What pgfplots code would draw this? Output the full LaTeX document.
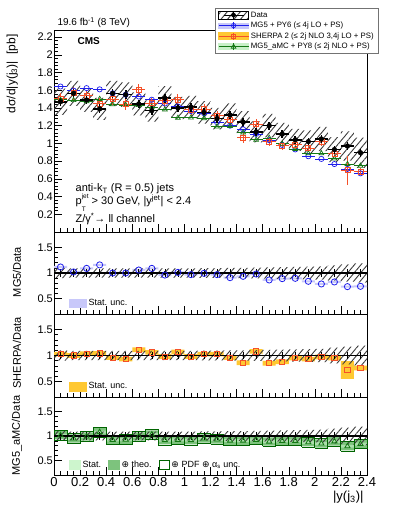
\documentclass[border=0pt]{standalone}
\usepackage{fontspec}
\setmainfont{Liberation Sans}
\newfontfamily\dejavu{DejaVu Sans}
\usepackage{pgfplots}
\usepackage{pgfplotstable}
\pgfplotsset{compat=1.18}
\usepgfplotslibrary{fillbetween}
\usetikzlibrary{patterns.meta}

\definecolor{mgblue}{RGB}{30,30,235}
\definecolor{mgband}{RGB}{200,200,250}
\definecolor{shred}{RGB}{245,80,40}
\definecolor{shband}{RGB}{255,200,50}
\definecolor{amcgreen}{RGB}{20,120,20}
\definecolor{amcstat}{RGB}{205,245,205}
\definecolor{amctheo}{RGB}{125,195,125}
\definecolor{amcdark}{RGB}{0,100,0}
\definecolor{amcband}{RGB}{200,240,200}
\definecolor{hatchcol}{RGB}{60,60,60}

\tikzset{hatch/.style={pattern={Lines[angle=50,distance=5pt,line width=0.9pt]}, pattern color=hatchcol}}

\pgfplotstableread{
x D Dst MG SH SHst AM
0.05 1.47 0.05 1.642 1.508 0.066 1.492
0.15 1.565 0.05 1.596 1.565 0.070 1.487
0.25 1.49 0.05 1.624 1.539 0.067 1.475
0.35 1.39 0.05 1.610 1.446 0.063 1.501
0.45 1.565 0.05 1.565 1.502 0.070 1.440
0.55 1.55 0.05 1.550 1.442 0.070 1.434
0.65 1.445 0.05 1.529 1.604 0.065 1.431
0.75 1.37 0.05 1.493 1.452 0.062 1.411
0.85 1.51 0.05 1.450 1.480 0.068 1.382
0.95 1.40 0.05 1.417 1.492 0.063 1.288
1.05 1.41 0.05 1.365 1.382 0.063 1.290
1.15 1.35 0.05 1.341 1.385 0.061 1.283
1.25 1.28 0.05 1.239 1.313 0.058 1.190
1.35 1.32 0.05 1.200 1.267 0.059 1.195
1.45 1.24 0.05 1.159 1.066 0.056 1.122
1.55 1.13 0.045 1.107 1.220 0.051 1.040
1.65 1.20 0.045 1.037 1.020 0.054 1.062
1.75 1.105 0.045 0.983 0.972 0.050 0.995
1.85 1.04 0.045 0.932 0.988 0.047 0.936
1.95 1.02 0.045 0.855 0.949 0.046 0.887
2.05 1.05 0.045 0.825 1.019 0.047 0.887
2.15 0.93 0.045 0.767 0.884 0.042 0.828
2.25 0.97 0.045 0.712 0.698 0.165 0.766
2.35 0.895 0.045 0.662 0.680 0.040 0.747
}\topdata

\pgfplotstableread{
xl lo hi
0.0 1.323 1.617
0.1 1.424 1.706
0.2 1.356 1.624
0.3 1.265 1.515
0.4 1.424 1.706
0.5 1.411 1.690
0.6 1.315 1.575
0.7 1.247 1.493
0.8 1.374 1.646
0.9 1.274 1.526
1.0 1.283 1.537
1.1 1.222 1.478
1.2 1.158 1.402
1.3 1.188 1.452
1.4 1.116 1.364
1.5 1.011 1.249
1.6 1.068 1.332
1.7 0.978 1.232
1.8 0.915 1.165
1.9 0.892 1.148
2.0 0.913 1.187
2.1 0.790 1.070
2.2 0.805 1.135
2.3 0.725 1.065
2.4 0.725 1.065
}\topband

\pgfplotstableread{
x one rMG rSH rAM
0.05 1 1.117 1.026 1.015
0.15 1 1.02 1.0 0.95
0.25 1 1.09 1.033 0.99
0.35 1 1.158 1.04 1.08
0.45 1 1.0 0.96 0.92
0.55 1 1.0 0.93 0.925
0.65 1 1.058 1.11 0.99
0.75 1 1.09 1.06 1.03
0.85 1 0.96 0.98 0.915
0.95 1 1.012 1.066 0.92
1.05 1 0.968 0.98 0.915
1.15 1 0.993 1.026 0.95
1.25 1 0.968 1.026 0.93
1.35 1 0.909 0.96 0.905
1.45 1 0.935 0.86 0.905
1.55 1 0.98 1.08 0.92
1.65 1 0.864 0.85 0.885
1.75 1 0.89 0.88 0.90
1.85 1 0.896 0.95 0.90
1.95 1 0.838 0.93 0.87
2.05 1 0.786 0.97 0.845
2.15 1 0.825 0.95 0.89
2.25 1 0.734 0.72 0.79
2.35 1 0.74 0.76 0.835
}\ratiotab

\pgfplotstableread{
xl slo shi mlo mhi hlo hhi tlo thi alo ahi
0.0 0.90 1.10 1.097 1.137 0.981 1.071 0.930 1.100 0.985 1.045
0.1 0.91 1.09 1.000 1.040 0.955 1.045 0.865 1.035 0.920 0.980
0.2 0.91 1.09 1.070 1.110 0.988 1.078 0.905 1.075 0.960 1.020
0.3 0.91 1.09 1.138 1.178 0.995 1.085 0.995 1.165 1.050 1.110
0.4 0.91 1.09 0.980 1.020 0.915 1.005 0.835 1.005 0.890 0.950
0.5 0.91 1.09 0.980 1.020 0.885 0.975 0.840 1.010 0.895 0.955
0.6 0.91 1.09 1.038 1.078 1.065 1.155 0.905 1.075 0.960 1.020
0.7 0.91 1.09 1.070 1.110 1.015 1.105 0.945 1.115 1.000 1.060
0.8 0.91 1.09 0.940 0.980 0.935 1.025 0.830 1.000 0.885 0.945
0.9 0.91 1.09 0.992 1.032 1.021 1.111 0.835 1.005 0.890 0.950
1.0 0.91 1.09 0.948 0.988 0.935 1.025 0.830 1.000 0.885 0.945
1.1 0.905 1.095 0.973 1.013 0.981 1.071 0.865 1.035 0.920 0.980
1.2 0.905 1.095 0.948 0.988 0.981 1.071 0.845 1.015 0.900 0.960
1.3 0.90 1.10 0.889 0.929 0.915 1.005 0.820 0.990 0.875 0.935
1.4 0.90 1.10 0.915 0.955 0.815 0.905 0.820 0.990 0.875 0.935
1.5 0.895 1.105 0.960 1.000 1.035 1.125 0.835 1.005 0.890 0.950
1.6 0.89 1.11 0.844 0.884 0.805 0.895 0.800 0.970 0.855 0.915
1.7 0.885 1.115 0.870 0.910 0.835 0.925 0.815 0.985 0.870 0.930
1.8 0.88 1.12 0.876 0.916 0.905 0.995 0.815 0.985 0.870 0.930
1.9 0.875 1.125 0.818 0.858 0.885 0.975 0.785 0.955 0.840 0.900
2.0 0.87 1.13 0.766 0.806 0.925 1.015 0.760 0.930 0.815 0.875
2.1 0.85 1.15 0.805 0.845 0.905 0.995 0.805 0.975 0.860 0.920
2.2 0.83 1.17 0.714 0.754 0.550 0.890 0.705 0.875 0.760 0.820
2.3 0.81 1.19 0.720 0.760 0.715 0.805 0.750 0.920 0.805 0.865
2.4 0.81 1.19 0.720 0.760 0.715 0.805 0.750 0.920 0.805 0.865
}\ratioband

\pgfplotsset{
  base/.style={
    scale only axis, width=313pt, xmin=0, xmax=2.4,
    clip=false,
    axis line style={line width=0.7pt},
    every tick/.style={black, line width=0.5pt},
    tick align=inside, xtick pos=left, ytick pos=left,
    major tick length=8pt, minor tick length=4pt,
    xtick={0,0.2,0.4,0.6,0.8,1,1.2,1.4,1.6,1.8,2,2.2,2.4},
    minor x tick num=3,
    /pgf/number format/assume math mode=true,
    yticklabel style={font=\fontsize{11}{13}\selectfont, inner sep=1pt},
    xticklabel style={font=\fontsize{13}{15}\selectfont, inner sep=2pt},
    unbounded coords=jump,
  },
  ratio/.style={base, ymin=0.2, ymax=1.8, ytick={0.5,1,1.5}, minor y tick num=4},
}

\begin{document}
\begin{tikzpicture}

% ---------------- top panel ----------------
\begin{axis}[base, at={(54pt,284pt)}, anchor=south west, height=202pt,
  ymin=0, ymax=2.28,
  ytick={0.2,0.4,0.6,0.8,1,1.2,1.4,1.6,1.8,2,2.2}, minor y tick num=4,
  xticklabels={},
  legend style={at={(0.514,1.109)}, anchor=north west, draw=black!55, line width=0.6pt,
    fill=white, font=\fontsize{7.8}{9}\selectfont, inner xsep=3pt, inner ysep=1.5pt,
    row sep=-0.6pt, cells={anchor=west}},
  legend cell align=left]
\addplot[name path=tu, const plot mark left, draw=none, forget plot] table[x=xl,y=hi]{\topband};
\addplot[name path=tl, const plot mark left, draw=none, forget plot] table[x=xl,y=lo]{\topband};
\addplot[hatch, draw=none, forget plot] fill between[of=tu and tl];

\addplot[mgblue, only marks, mark=o, mark size=2.6pt, line width=0.7pt, mark options={fill=white}, forget plot,
  error bars/.cd, x dir=both, x fixed=0.05, error mark=none, error bar style={line width=0.8pt}]
  table[x=x,y=MG]{\topdata};
\addplot[amcgreen, only marks, mark=triangle, mark size=2.8pt, line width=0.7pt, mark options={fill=white}, forget plot,
  error bars/.cd, x dir=both, x fixed=0.05, error mark=none, error bar style={line width=0.8pt}]
  table[x=x,y=AM]{\topdata};
\addplot[shred, only marks, mark=square, mark size=2.5pt, line width=0.7pt, mark options={fill=white}, forget plot,
  error bars/.cd, x dir=both, x fixed=0.05, y dir=both, y explicit, error mark=none, error bar style={line width=0.8pt}]
  table[x=x,y=SH,y error=SHst]{\topdata};
\addplot[black, only marks, mark=*, mark size=2.4pt, forget plot,
  error bars/.cd, x dir=both, x fixed=0.05, y dir=both, y explicit, error mark=none, error bar style={line width=1.6pt}]
  table[x=x,y=D,y error=Dst]{\topdata};

\addlegendimage{legend image code/.code={
  \fill[hatch] (0pt,-4pt) rectangle (30pt,4pt);
  \draw[line width=1.3pt] (5pt,0pt) -- (25pt,0pt);
  \draw[line width=1.3pt] (15pt,-3.5pt) -- (15pt,3.5pt);
  \fill (15pt,0pt) circle (2pt);}}
\addlegendentry{Data}
\addlegendimage{legend image code/.code={
  \fill[mgband] (0pt,-2.5pt) rectangle (30pt,2.5pt);
  \draw[mgblue, line width=0.8pt] (0pt,0pt) -- (30pt,0pt);
  \draw[mgblue, line width=0.8pt] (15pt,-3.5pt) -- (15pt,3.5pt);
  \draw[mgblue, line width=0.7pt] (15pt,0pt) circle (2.2pt);}}
\addlegendentry{MG5 + PY6 (≤ 4j LO + PS)}
\addlegendimage{legend image code/.code={
  \fill[shband] (0pt,-3.5pt) rectangle (30pt,3.5pt);
  \draw[shred, line width=0.8pt] (0pt,0pt) -- (30pt,0pt);
  \draw[shred, line width=0.8pt] (15pt,-3.5pt) -- (15pt,3.5pt);
  \draw[shred, line width=0.7pt] (13pt,-2pt) rectangle (17pt,2pt);}}
\addlegendentry{SHERPA 2 (≤ 2j NLO 3,4j LO + PS)}
\addlegendimage{legend image code/.code={
  \fill[amcband] (0pt,-3pt) rectangle (30pt,3pt);
  \draw[amcgreen, line width=0.8pt] (0pt,0pt) -- (30pt,0pt);
  \draw[amcgreen, line width=0.8pt] (15pt,-3.5pt) -- (15pt,3.5pt);
  \draw[amcgreen, line width=0.7pt] (12.6pt,-1.6pt) -- (17.4pt,-1.6pt) -- (15pt,2.6pt) -- cycle;}}
\addlegendentry{MG5\_aMC + PY8 (≤ 2j NLO + PS)}

\node[anchor=west, font=\fontsize{10}{12}\selectfont] at (rel axis cs:0.0,1.037) {19.6 fb\textsuperscript{-1} (8 TeV)};
\node[anchor=west, font=\bfseries\fontsize{10}{12}\selectfont] at (rel axis cs:0.064,0.946) {CMS};
\node[rotate=90, anchor=east, font=\fontsize{12}{14}\selectfont] at (rel axis cs:-0.133,0.995) {dσ/d|y(j\textsubscript{3})|\ \ [pb]};
\node[anchor=west, font=\fontsize{11}{13}\selectfont] at (rel axis cs:0.058,0.215) {anti-k\textsubscript{T} (R = 0.5) jets};
\node[anchor=west, font=\fontsize{11}{13}\selectfont] at (rel axis cs:0.058,0.148) {p\begin{tabular}{@{}l@{}}\fontsize{6.5}{7.5}\selectfont jet\\\fontsize{6.5}{7.5}\selectfont T\end{tabular} > 30 GeV, |y\textsuperscript{jet}| < 2.4};
\node[anchor=west, font=\fontsize{11}{13}\selectfont] at (rel axis cs:0.058,0.064) {Z/γ\textsuperscript{*}→ ll channel};
\end{axis}

% ---------------- ratio 1: MG5 ----------------
\begin{axis}[ratio, at={(54pt,202pt)}, anchor=south west, height=82pt, xticklabels={},
  legend style={at={(0.048,0.134)}, anchor=west, draw=none, fill=none,
    font=\fontsize{9}{10}\selectfont, inner sep=0pt, cells={anchor=west}},
  legend cell align=left]
\addplot[name path=mu, const plot mark left, draw=none, forget plot] table[x=xl,y=mhi]{\ratioband};
\addplot[name path=ml, const plot mark left, draw=none, forget plot] table[x=xl,y=mlo]{\ratioband};
\addplot[mgband, draw=none, forget plot] fill between[of=mu and ml];
\addplot[name path=su, const plot mark left, draw=none, forget plot] table[x=xl,y=shi]{\ratioband};
\addplot[name path=sl, const plot mark left, draw=none, forget plot] table[x=xl,y=slo]{\ratioband};
\addplot[hatch, draw=none, forget plot] fill between[of=su and sl];
\addplot[black, line width=1.2pt, forget plot] coordinates {(0,1) (2.4,1)};
\addplot[black, only marks, mark=*, mark size=0.9pt, forget plot,
  error bars/.cd, y dir=both, y fixed=0.035, error mark options={mark size=1.8pt, line width=0.6pt}, error bar style={line width=0.8pt}]
  table[x=x,y=one]{\ratiotab};
\addplot[mgblue, only marks, mark=o, mark size=3.1pt, line width=0.8pt, forget plot] table[x=x,y=rMG]{\ratiotab};
\addlegendimage{legend image code/.code={\fill[mgband] (0pt,-4pt) rectangle (17pt,4pt);}}
\addlegendentry{Stat. unc.}
\node[rotate=90, font=\fontsize{11}{13}\selectfont] at (rel axis cs:-0.118,0.512) {MG5/Data};
\end{axis}

% ---------------- ratio 2: SHERPA ----------------
\begin{axis}[ratio, at={(54pt,119pt)}, anchor=south west, height=83pt, xticklabels={},
  legend style={at={(0.048,0.13)}, anchor=west, draw=none, fill=none,
    font=\fontsize{9}{10}\selectfont, inner sep=0pt, cells={anchor=west}},
  legend cell align=left]
\addplot[name path=hu, const plot mark left, draw=none, forget plot] table[x=xl,y=hhi]{\ratioband};
\addplot[name path=hl, const plot mark left, draw=none, forget plot] table[x=xl,y=hlo]{\ratioband};
\addplot[shband, draw=none, forget plot] fill between[of=hu and hl];
\addplot[name path=su, const plot mark left, draw=none, forget plot] table[x=xl,y=shi]{\ratioband};
\addplot[name path=sl, const plot mark left, draw=none, forget plot] table[x=xl,y=slo]{\ratioband};
\addplot[hatch, draw=none, forget plot] fill between[of=su and sl];
\addplot[black, line width=1.2pt, forget plot] coordinates {(0,1) (2.4,1)};
\addplot[black, only marks, mark=*, mark size=0.9pt, forget plot,
  error bars/.cd, y dir=both, y fixed=0.035, error mark options={mark size=1.8pt, line width=0.6pt}, error bar style={line width=0.8pt}]
  table[x=x,y=one]{\ratiotab};
\addplot[shred, only marks, mark=square, mark size=2.6pt, line width=0.8pt, forget plot] table[x=x,y=rSH]{\ratiotab};
\addlegendimage{legend image code/.code={\fill[shband] (0pt,-4.5pt) rectangle (17pt,4.5pt);}}
\addlegendentry{Stat. unc.}
\node[rotate=90, font=\fontsize{11}{13}\selectfont] at (rel axis cs:-0.118,0.53) {SHERPA/Data};
\end{axis}

% ---------------- ratio 3: MG5_aMC ----------------
\begin{axis}[ratio, at={(54pt,41pt)}, anchor=south west, height=78pt,
  legend columns=3,
  legend style={at={(0.048,0.128)}, anchor=west, draw=none, fill=none,
    font=\fontsize{9}{10}\selectfont, inner sep=0pt, cells={anchor=west},
    /tikz/every even column/.append style={column sep=5pt}},
  legend cell align=left]
\addplot[name path=tu, const plot mark left, draw=none, forget plot] table[x=xl,y=thi]{\ratioband};
\addplot[name path=tl, const plot mark left, draw=none, forget plot] table[x=xl,y=tlo]{\ratioband};
\addplot[amctheo, draw=none, forget plot] fill between[of=tu and tl];
\addplot[name path=au, const plot mark left, draw=none, forget plot] table[x=xl,y=ahi]{\ratioband};
\addplot[name path=al, const plot mark left, draw=none, forget plot] table[x=xl,y=alo]{\ratioband};
\addplot[amcband, opacity=0.6, draw=none, forget plot] fill between[of=au and al];
\addplot[amcdark, line width=0.9pt, forget plot] coordinates {
(0,0.915)(0.1,0.915)(0.1,1.115)(0,1.115)(0,0.915)(0,nan)
(0.1,0.85)(0.2,0.85)(0.2,1.05)(0.1,1.05)(0.1,0.85)(0.1,nan)
(0.2,0.89)(0.3,0.89)(0.3,1.09)(0.2,1.09)(0.2,0.89)(0.2,nan)
(0.3,0.98)(0.4,0.98)(0.4,1.18)(0.3,1.18)(0.3,0.98)(0.3,nan)
(0.4,0.82)(0.5,0.82)(0.5,1.02)(0.4,1.02)(0.4,0.82)(0.4,nan)
(0.5,0.825)(0.6,0.825)(0.6,1.025)(0.5,1.025)(0.5,0.825)(0.5,nan)
(0.6,0.89)(0.7,0.89)(0.7,1.09)(0.6,1.09)(0.6,0.89)(0.6,nan)
(0.7,0.93)(0.8,0.93)(0.8,1.13)(0.7,1.13)(0.7,0.93)(0.7,nan)
(0.8,0.815)(0.9,0.815)(0.9,1.015)(0.8,1.015)(0.8,0.815)(0.8,nan)
(0.9,0.82)(1.0,0.82)(1.0,1.02)(0.9,1.02)(0.9,0.82)(0.9,nan)
(1.0,0.815)(1.1,0.815)(1.1,1.015)(1.0,1.015)(1.0,0.815)(1.0,nan)
(1.1,0.85)(1.2,0.85)(1.2,1.05)(1.1,1.05)(1.1,0.85)(1.1,nan)
(1.2,0.83)(1.3,0.83)(1.3,1.03)(1.2,1.03)(1.2,0.83)(1.2,nan)
(1.3,0.805)(1.4,0.805)(1.4,1.005)(1.3,1.005)(1.3,0.805)(1.3,nan)
(1.4,0.805)(1.5,0.805)(1.5,1.005)(1.4,1.005)(1.4,0.805)(1.4,nan)
(1.5,0.82)(1.6,0.82)(1.6,1.02)(1.5,1.02)(1.5,0.82)(1.5,nan)
(1.6,0.785)(1.7,0.785)(1.7,0.985)(1.6,0.985)(1.6,0.785)(1.6,nan)
(1.7,0.80)(1.8,0.80)(1.8,1.00)(1.7,1.00)(1.7,0.80)(1.7,nan)
(1.8,0.80)(1.9,0.80)(1.9,1.00)(1.8,1.00)(1.8,0.80)(1.8,nan)
(1.9,0.77)(2.0,0.77)(2.0,0.97)(1.9,0.97)(1.9,0.77)(1.9,nan)
(2.0,0.745)(2.1,0.745)(2.1,0.945)(2.0,0.945)(2.0,0.745)(2.0,nan)
(2.1,0.79)(2.2,0.79)(2.2,0.99)(2.1,0.99)(2.1,0.79)(2.1,nan)
(2.2,0.69)(2.3,0.69)(2.3,0.89)(2.2,0.89)(2.2,0.69)(2.2,nan)
(2.3,0.735)(2.4,0.735)(2.4,0.935)(2.3,0.935)(2.3,0.735)
};
\addplot[name path=su, const plot mark left, draw=none, forget plot] table[x=xl,y=shi]{\ratioband};
\addplot[name path=sl, const plot mark left, draw=none, forget plot] table[x=xl,y=slo]{\ratioband};
\addplot[hatch, draw=none, forget plot] fill between[of=su and sl];
\addplot[black, line width=1.2pt, forget plot] coordinates {(0,1) (2.4,1)};
\addplot[black, only marks, mark=*, mark size=0.9pt, forget plot,
  error bars/.cd, y dir=both, y fixed=0.035, error mark options={mark size=1.8pt, line width=0.6pt}, error bar style={line width=0.8pt}]
  table[x=x,y=one]{\ratiotab};
\addplot[amcgreen, only marks, mark=triangle, mark size=3pt, line width=0.8pt, forget plot] table[x=x,y=rAM]{\ratiotab};
\addlegendimage{legend image code/.code={\fill[amcstat] (0pt,-4.5pt) rectangle (11pt,4.5pt);}}
\addlegendentry{Stat.}
\addlegendimage{legend image code/.code={\fill[amctheo] (0pt,-4.5pt) rectangle (11pt,4.5pt);}}
\addlegendentry{{\dejavu ⊕} theo.}
\addlegendimage{legend image code/.code={\draw[amcdark, line width=0.9pt, fill=white] (0pt,-4.5pt) rectangle (10pt,4.5pt);}}
\addlegendentry{{\dejavu ⊕} PDF {\dejavu ⊕} α\textsubscript{s} unc.}
\node[rotate=90, font=\fontsize{11}{13}\selectfont] at (rel axis cs:-0.118,0.506) {MG5\_aMC/Data};
\node[anchor=east, font=\fontsize{13}{15}\selectfont] at (rel axis cs:1,-0.282) {|y(j\textsubscript{3})|};
\end{axis}
\path (0pt,0pt) rectangle (399pt,516pt);
\end{tikzpicture}
\end{document}
